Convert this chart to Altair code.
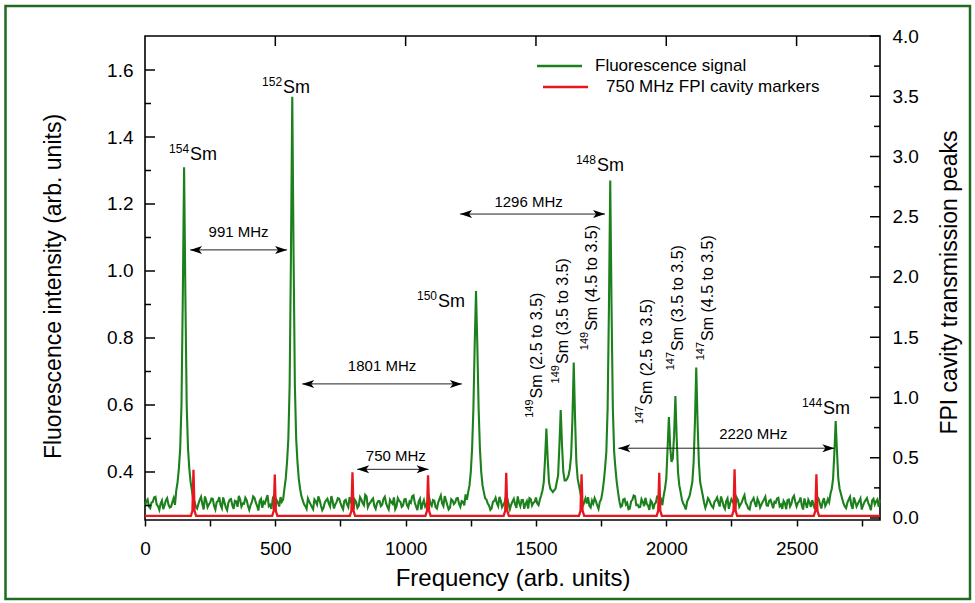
import altair as alt
import pandas as pd

# ---------------- data ----------------
# sampled frequency grid of the fluorescence trace (arb. units)
FREQ = list(range(0, 2825, 5))
# fluorescence intensity, in thousandths of arb. units
FLUOR_MILLI = [
    300, 312, 318, 297, 292, 309, 311, 324, 326, 303, 298, 287, 306, 315, 289, 301, 315, 322, 303, 294,
    296, 310, 322, 302, 345, 370, 410, 470, 600, 920, 1310, 920, 600, 470, 410, 370, 345, 318, 312, 296,
    291, 305, 317, 326, 304, 288, 327, 314, 295, 303, 309, 321, 320, 299, 288, 310, 313, 325, 301, 292,
    324, 309, 294, 286, 308, 317, 319, 301, 290, 314, 312, 296, 329, 318, 297, 306, 305, 323, 316, 299,
    287, 301, 310, 327, 323, 309, 299, 285, 314, 320, 293, 311, 306, 319, 331, 298, 302, 290, 318, 308,
    292, 316, 309, 297, 325, 311, 318, 350, 380, 430, 500, 660, 1050, 1520, 1050, 660, 500, 430, 380, 350,
    328, 316, 304, 298, 290, 321, 312, 304, 296, 289, 318, 312, 303, 327, 316, 300, 286, 293, 309, 315,
    320, 306, 297, 328, 312, 291, 303, 310, 322, 320, 308, 297, 289, 314, 317, 303, 295, 325, 311, 302,
    288, 317, 311, 293, 299, 325, 318, 307, 301, 332, 327, 295, 304, 309, 316, 321, 298, 290, 306, 313,
    313, 298, 302, 320, 326, 307, 296, 288, 317, 310, 305, 324, 289, 297, 322, 314, 311, 296, 300, 318,
    319, 301, 294, 312, 308, 327, 330, 309, 297, 286, 312, 320, 288, 305, 316, 297, 303, 315, 324, 306,
    299, 316, 314, 295, 291, 309, 320, 330, 306, 298, 328, 315, 301, 288, 293, 319, 315, 304, 309, 321,
    322, 305, 296, 313, 311, 300, 333, 317, 340, 360, 400, 470, 590, 780, 940, 780, 590, 470, 400, 360,
    340, 322, 318, 306, 300, 287, 292, 311, 314, 323, 307, 298, 326, 314, 295, 302, 310, 327, 321, 305,
    289, 303, 312, 320, 304, 293, 327, 309, 298, 316, 316, 290, 305, 313, 291, 322, 319, 300, 308, 311,
    324, 306, 301, 317, 330, 345, 370, 440, 530, 440, 370, 350, 345, 340, 345, 350, 370, 390, 480, 585,
    480, 400, 375, 375, 380, 390, 410, 450, 560, 727, 560, 430, 380, 360, 340, 318, 297, 310, 321, 306,
    325, 299, 294, 315, 306, 322, 313, 300, 290, 311, 318, 340, 370, 410, 460, 590, 890, 1270, 890, 590,
    460, 410, 370, 340, 313, 296, 299, 318, 320, 303, 308, 289, 291, 312, 317, 330, 328, 301, 302, 295,
    296, 319, 311, 298, 323, 305, 300, 287, 315, 310, 289, 304, 309, 327, 326, 312, 318, 301, 330, 350,
    380, 470, 564, 475, 430, 440, 510, 627, 500, 400, 360, 340, 318, 306, 299, 288, 312, 320, 330, 350,
    370, 430, 550, 712, 550, 430, 370, 350, 330, 309, 293, 305, 322, 316, 305, 298, 293, 311, 316, 324,
    309, 297, 327, 314, 298, 290, 313, 321, 290, 306, 319, 312, 304, 295, 324, 317, 296, 303, 310, 322,
    331, 308, 301, 290, 288, 309, 315, 322, 307, 296, 320, 311, 294, 303, 311, 318, 326, 300, 299, 314,
    317, 305, 292, 311, 308, 321, 323, 298, 303, 290, 314, 307, 289, 316, 318, 297, 305, 323, 329, 311,
    297, 308, 312, 324, 300, 288, 321, 305, 293, 317, 309, 296, 316, 302, 290, 314, 325, 319, 304, 291,
    311, 322, 298, 306, 319, 310, 335, 350, 380, 460, 552, 460, 380, 350, 335, 320, 306, 297, 292, 309,
    318, 326, 301, 290, 324, 311, 297, 305, 313, 321, 288, 300, 310, 316, 322, 307, 299, 286, 315, 320,
    303, 312, 318, 296, 318,
]
FLUOR = [m / 1000 for m in FLUOR_MILLI]

# FPI cavity transmission trace (right axis)
RED_FREQ = [
    0,
    176, 182, 186, 190, 196,
    488, 494, 498, 502, 508,
    786, 792, 796, 800, 806,
    1076, 1082, 1086, 1090, 1096,
    1376, 1382, 1386, 1390, 1396,
    1665, 1671, 1675, 1679, 1685,
    1963, 1969, 1973, 1977, 1983,
    2252, 2258, 2262, 2266, 2272,
    2566, 2572, 2576, 2580, 2586,
    2820,
]
RED_VAL = [
    0.017,
    0.017, 0.06, 0.40, 0.06, 0.017,
    0.017, 0.06, 0.36, 0.06, 0.017,
    0.017, 0.06, 0.38, 0.06, 0.017,
    0.017, 0.06, 0.355, 0.06, 0.017,
    0.017, 0.06, 0.375, 0.06, 0.017,
    0.017, 0.06, 0.363, 0.06, 0.017,
    0.017, 0.06, 0.376, 0.06, 0.017,
    0.017, 0.06, 0.404, 0.06, 0.017,
    0.017, 0.06, 0.363, 0.06, 0.017,
    0.017,
]

# even-isotope peak labels
ISO_MASS = ["154", "152", "150", "148", "144"]
ISO_FREQ = [150, 565, 1270, 1785, 2650]
ISO_PEAK = [1.31, 1.52, 0.94, 1.27, 0.552]

# hyperfine component labels (rotated)
HF_MASS = ["149", "149", "149", "147", "147", "147"]
HF_TEXT = ["Sm (2.5 to 3.5)", "Sm (3.5 to 3.5)", "Sm (4.5 to 3.5)",
           "Sm (2.5 to 3.5)", "Sm (3.5 to 3.5)", "Sm (4.5 to 3.5)"]
HF_FREQ = [1540, 1595, 1645, 2010, 2035, 2115]
HF_PEAK = [0.53, 0.585, 0.727, 0.564, 0.627, 0.712]

# spacing arrows
ARROW_TEXT = ["991 MHz", "1296 MHz", "1801 MHz", "750 MHz", "2220 MHz"]
ARROW_FROM = [173, 1209, 603, 814, 1816]
ARROW_TO = [545, 1765, 1216, 1088, 2645]
ARROW_LEVEL = [1.063, 1.170, 0.663, 0.408, 0.471]

LEFT_LABELS = [0.4, 0.6, 0.8, 1.0, 1.2, 1.4, 1.6]
LEFT_MINOR = [0.3, 0.5, 0.7, 0.9, 1.1, 1.3, 1.5]
RIGHT_LABELS = [0.0, 0.5, 1.0, 1.5, 2.0, 2.5, 3.0, 3.5, 4.0]
RIGHT_MINOR = [0.25, 0.75, 1.25, 1.75, 2.25, 2.75, 3.25, 3.75]
X_TICKS = [0, 250, 500, 750, 1000, 1250, 1500, 1750, 2000, 2250, 2500, 2750]
TOP_TICKS = [500, 1000, 1500, 2000, 2500]

# ---------------- layout / style ----------------
W, H = 735, 484
FONT = "Liberation Sans"
GREEN = "#1c801c"
RED = "#e8161d"
FRAME = "#1f6b1f"

# pixel offsets of labels relative to their peak tops
ISO_DX = [6, -9.2, -38, -13.3, -12.6]
ISO_DY = [-7, -4, 16, -10, -6.6]
HF_SX = [-9, 2.3, 18, -22, 3, 12.1]
HF_SY = [-30, -46, -31.6, -12.3, -45, -26.5]
ARROW_LDX = [0, -4, 0, 3, 27]
ARROW_LDY = [-18, -12, -18, -13, -14]

X_SCALE = alt.Scale(domain=[0, 2820], nice=False, zero=False)
YL_SCALE = alt.Scale(domain=[0.2567, 1.7015], nice=False, zero=False)
YR_SCALE = alt.Scale(domain=[-0.0166, 4.0], nice=False, zero=False)

X_AXIS = alt.Axis(
    values=X_TICKS, format="d",
    labelExpr="datum.value % 500 === 0 ? datum.label : ''",
    labelOverlap=False, labelFlush=False, labelFontSize=19, labelPadding=13,
    tickSize=6, tickWidth=1.5, tickColor="black", domain=False, grid=False,
    title="Frequency (arb. units)", titleFontSize=24, titleFontWeight="normal",
    titleY=58, titleBaseline="middle")
YL_AXIS = alt.Axis(
    values=LEFT_LABELS, format=".1f", ticks=False, tickSize=0, domain=False,
    grid=False, labelFontSize=19, labelPadding=12,
    title="Fluorescence intensity (arb. units)", titleFontSize=23,
    titleFontWeight="normal", titleAngle=270, titleAlign="center",
    titleBaseline="middle", titleX=-92, titleY=250)
YR_AXIS = alt.Axis(
    orient="right", values=RIGHT_LABELS, format=".1f", ticks=False,
    tickSize=0, domain=False, grid=False, labelFontSize=19, labelPadding=12,
    title="FPI cavity transmission peaks", titleFontSize=23,
    titleFontWeight="normal", titleAngle=270, titleAlign="center",
    titleBaseline="middle", titleX=69, titleY=246)


def xq(field):
    return alt.X(field, type="quantitative", scale=X_SCALE, axis=X_AXIS)


def yl(field):
    return alt.Y(field, type="quantitative", scale=YL_SCALE, axis=YL_AXIS)


def yr(field):
    return alt.Y(field, type="quantitative", scale=YR_SCALE, axis=YR_AXIS)


one_row = alt.Data(values=[{}])

# ---------------- left group ----------------
green_df = pd.DataFrame({"f": FREQ, "v": FLUOR})
green = alt.Chart(green_df).mark_line(color=GREEN, strokeWidth=2.1).encode(
    x=xq("f"), y=yl("v"))

lt_major = alt.Chart(pd.DataFrame({"t": LEFT_LABELS})).mark_rule(
    color="black", strokeWidth=1.5).encode(
    y=yl("t"), x=alt.value(0), x2=alt.value(10))
lt_minor = alt.Chart(pd.DataFrame({"t": LEFT_MINOR})).mark_rule(
    color="black", strokeWidth=1.5).encode(
    y=yl("t"), x=alt.value(0), x2=alt.value(6))
top_ticks = alt.Chart(pd.DataFrame({"t": TOP_TICKS})).mark_rule(
    color="black", strokeWidth=1.5).encode(
    x=xq("t"), y=alt.value(0), y2=alt.value(10))

iso_df = pd.DataFrame({"mass": ISO_MASS, "f": ISO_FREQ, "v": ISO_PEAK,
                       "dx": ISO_DX, "dy": ISO_DY})
iso_sm = alt.Chart(iso_df).mark_text(
    text="Sm", align="left", baseline="alphabetic", fontSize=18, font=FONT,
    color="black", dx={"expr": "datum.dx"}, dy={"expr": "datum.dy"}).encode(
    x=xq("f"), y=yl("v"))
iso_sup = alt.Chart(iso_df).mark_text(
    align="right", baseline="alphabetic", fontSize=12, font=FONT, color="black",
    dx={"expr": "datum.dx - 1"}, dy={"expr": "datum.dy - 7"}).encode(
    x=xq("f"), y=yl("v"), text="mass:N")

hf_df = pd.DataFrame({"mass": HF_MASS, "label": HF_TEXT, "f": HF_FREQ,
                      "v": HF_PEAK, "sx": HF_SX, "sy": HF_SY})
# for angle 270 the text offsets act in the rotated frame: dx = -screen_y, dy = screen_x
hf_main = alt.Chart(hf_df).mark_text(
    angle=270, align="left", baseline="middle", fontSize=16, font=FONT,
    color="black", dx={"expr": "-datum.sy"}, dy={"expr": "datum.sx"}).encode(
    x=xq("f"), y=yl("v"), text="label:N")
hf_sup = alt.Chart(hf_df).mark_text(
    angle=270, align="right", baseline="middle", fontSize=11, font=FONT,
    color="black", dx={"expr": "-(datum.sy + 1)"}, dy={"expr": "datum.sx - 7"}).encode(
    x=xq("f"), y=yl("v"), text="mass:N")

arrow_df = pd.DataFrame({"label": ARROW_TEXT, "a": ARROW_FROM, "b": ARROW_TO,
                         "v": ARROW_LEVEL, "ldx": ARROW_LDX, "ldy": ARROW_LDY})
arrow_base = alt.Chart(arrow_df)
shafts = arrow_base.mark_rule(color="#222222", strokeWidth=1).encode(
    x=xq("a"), x2="b:Q", y=yl("v"))
LEFT_HEAD = "M0,0L2.4,-0.8L1.8,0L2.4,0.8Z"
RIGHT_HEAD = "M0,0L-2.4,-0.8L-1.8,0L-2.4,0.8Z"
heads_l = arrow_base.mark_point(shape=LEFT_HEAD, filled=True, size=100,
                                color="black", opacity=1).encode(
    x=xq("a"), y=yl("v"))
heads_r = arrow_base.mark_point(shape=RIGHT_HEAD, filled=True, size=100,
                                color="black", opacity=1).encode(
    x=xq("b"), y=yl("v"))
arrow_lbl = arrow_base.transform_calculate(mid="(datum.a + datum.b) / 2").mark_text(
    baseline="middle", align="center", fontSize=15, font=FONT, color="black",
    dx={"expr": "datum.ldx"}, dy={"expr": "datum.ldy"}).encode(
    x=xq("mid"), y=yl("v"), text="label:N")

# manual legend
leg_g = alt.Chart(one_row).mark_rule(color=GREEN, strokeWidth=2.4).encode(
    x=alt.value(392), x2=alt.value(437), y=alt.value(30))
leg_r = alt.Chart(one_row).mark_rule(color=RED, strokeWidth=2.4).encode(
    x=alt.value(398), x2=alt.value(443), y=alt.value(51))
leg_gt = alt.Chart(one_row).mark_text(
    text="Fluorescence signal", align="left", baseline="middle", fontSize=17,
    font=FONT, color="black").encode(x=alt.value(450), y=alt.value(30))
leg_rt = alt.Chart(one_row).mark_text(
    text="750 MHz FPI cavity markers", align="left", baseline="middle",
    fontSize=17, font=FONT, color="black").encode(x=alt.value(461), y=alt.value(51))

frame = alt.Chart(one_row).mark_rect(
    fillOpacity=0, stroke=FRAME, strokeWidth=2.5).encode(
    x=alt.value(-139.5), x2=alt.value(825), y=alt.value(-30), y2=alt.value(563))

left_group = alt.layer(
    green, lt_major, lt_minor, top_ticks, iso_sm, iso_sup, hf_main, hf_sup,
    shafts, heads_l, heads_r, arrow_lbl, leg_g, leg_r, leg_gt, leg_rt, frame)

# ---------------- right group ----------------
red_df = pd.DataFrame({"f": RED_FREQ, "r": RED_VAL})
red = alt.Chart(red_df).mark_line(color=RED, strokeWidth=2.3).encode(
    x=xq("f"), y=yr("r"))
rt_major = alt.Chart(pd.DataFrame({"t": RIGHT_LABELS})).mark_rule(
    color="black", strokeWidth=1.5).encode(
    y=yr("t"), x=alt.value(W - 10), x2=alt.value(W))
rt_minor = alt.Chart(pd.DataFrame({"t": RIGHT_MINOR})).mark_rule(
    color="black", strokeWidth=1.5).encode(
    y=yr("t"), x=alt.value(W - 6), x2=alt.value(W))

right_group = alt.layer(red, rt_major, rt_minor)

chart = alt.layer(left_group, right_group).resolve_scale(
    y="independent", x="shared"
).resolve_axis(
    y="independent", x="shared"
).properties(
    width=W, height=H,
    autosize=alt.AutoSizeParams(type="none"),
    padding={"left": 145, "top": 36, "right": 95, "bottom": 83},
    background="white",
).configure_view(
    stroke="black", strokeWidth=1.6
).configure_axis(
    labelFont=FONT, titleFont=FONT, labelColor="black", titleColor="black"
)

chart.save("out.html", embed_options={"renderer": "svg", "actions": False})
